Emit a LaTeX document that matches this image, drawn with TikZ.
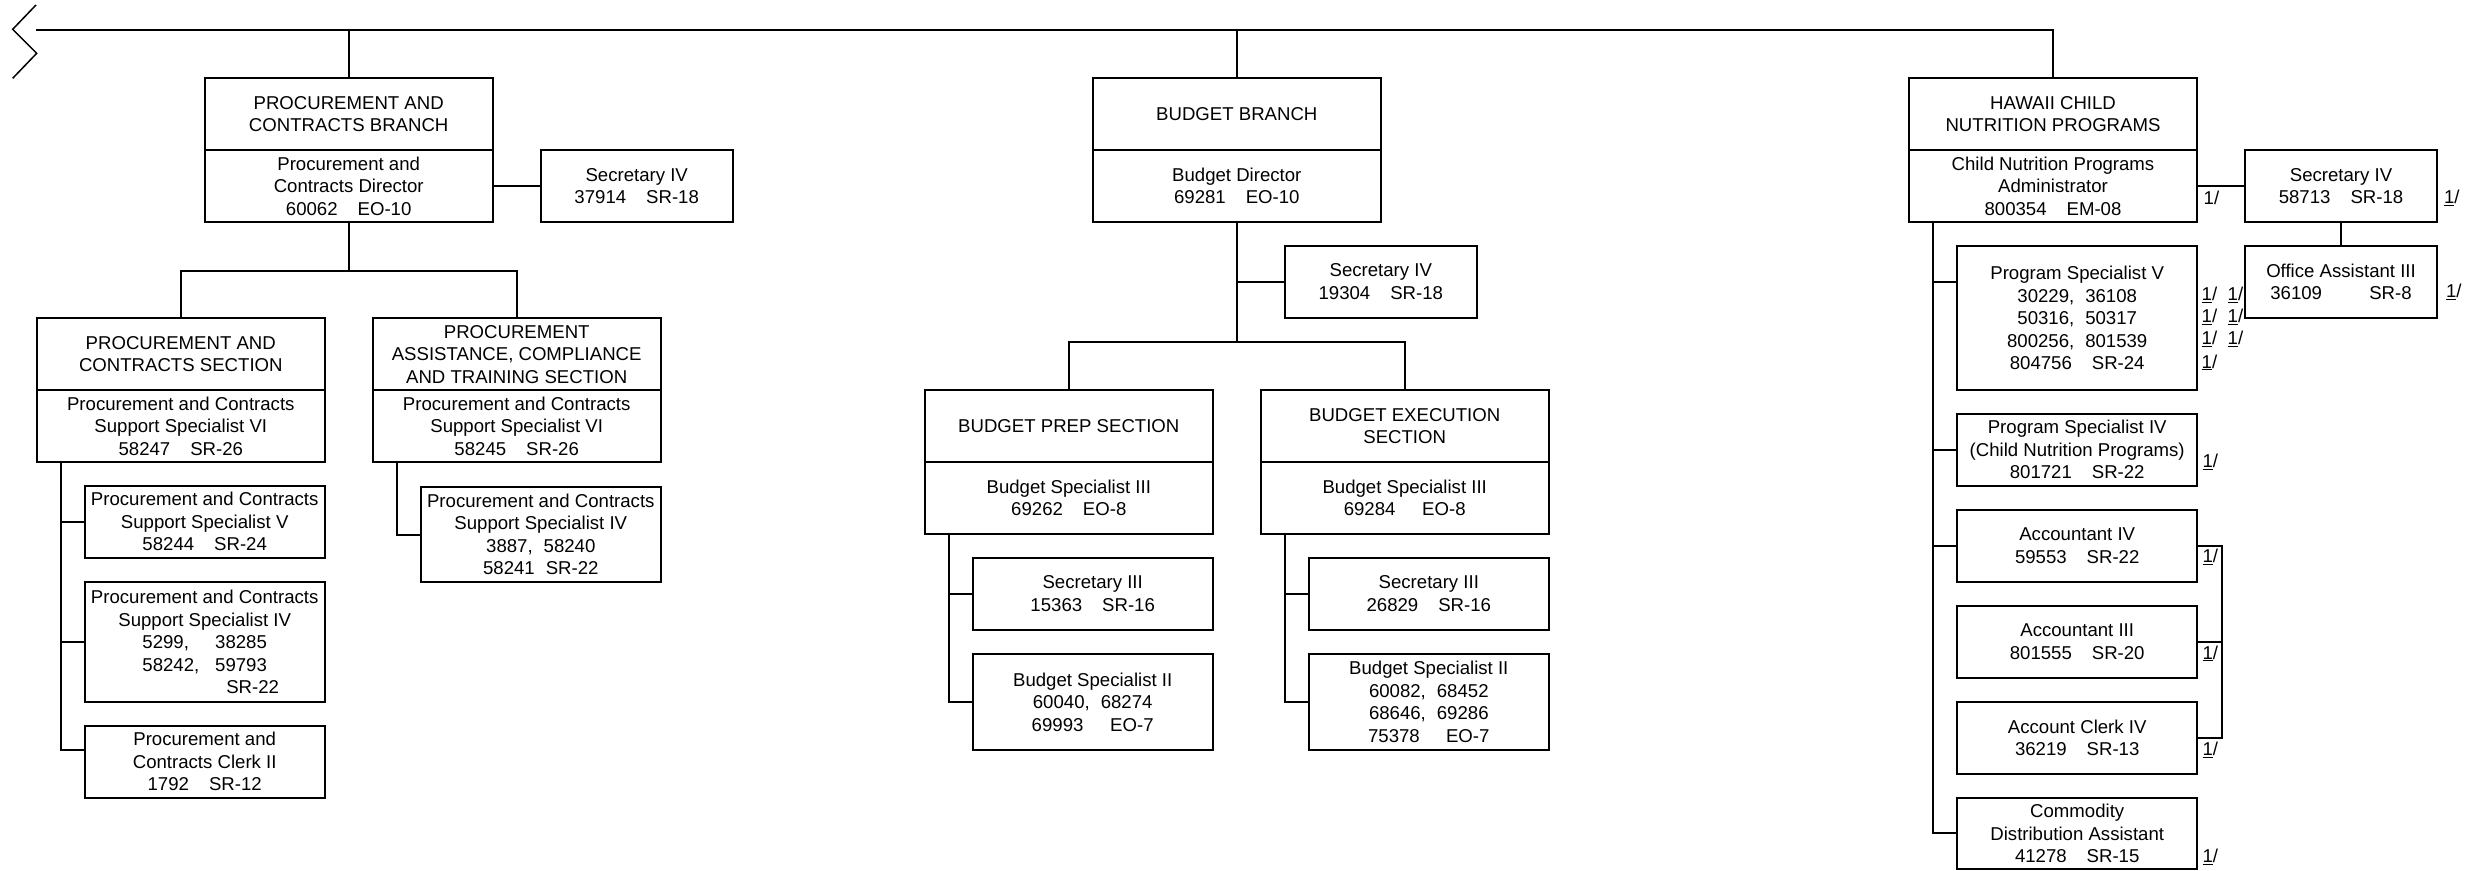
\documentclass[tikz,border=0pt]{standalone}
\usepackage{fontspec}
\setmainfont{Liberation Sans}
\usetikzlibrary{positioning}
\newcommand\posgap{\hspace{20pt}}
\newcommand\commagap{\hspace{11pt}}
\newcommand\noteone{\underline{1}/}
\tikzset{
	orgbox/.style={draw,line width=2pt,align=center,inner sep=0pt,outer sep=0pt,minimum height=72pt},
	bigbox/.style={orgbox,minimum width=288pt},
	smallbox/.style={orgbox,minimum width=240pt},
	secbox/.style={orgbox,minimum width=192pt},
	fnote/.style={anchor=west,inner sep=0pt},
}
\begin{document}
\begin{tikzpicture}[x=1pt,y=-1pt,line width=2pt,font=\fontsize{18.6}{22.5}\selectfont]
	\useasboundingbox (0,0) rectangle (2486,870);
	% break mark
	\draw[line width=1.5pt] (36,5)--(12.7,29.3)--(36.7,53.3)--(12.7,78.3);
	\coordinate (topl) at (36,30);
	% procurement and contracts
	\node[bigbox] (pcbhead) at (348.7,114) {PROCUREMENT AND\\CONTRACTS BRANCH};
	\node[bigbox,below=0pt of pcbhead] (pcbbody) {Procurement and\\Contracts Director\\60062\posgap EO-10};
	\node[secbox] (pcbsec) at (636.7,186) {Secretary IV\\37914\posgap SR-18};
	\node[bigbox] (pcshead) at (180.8,354.2) {PROCUREMENT AND\\CONTRACTS SECTION};
	\node[bigbox,below=0pt of pcshead] (pcsbody) {Procurement and Contracts\\Support Specialist VI\\58247\posgap SR-26};
	\node[bigbox] (pactshead) at (516.7,354.2) {PROCUREMENT\\ASSISTANCE, COMPLIANCE\\AND TRAINING SECTION};
	\node[bigbox,below=0pt of pactshead] (pactsbody) {Procurement and Contracts\\Support Specialist VI\\58245\posgap SR-26};
	\node[smallbox] (pcs1) at (204.7,521.8) {Procurement and Contracts\\Support Specialist V\\58244\posgap SR-24};
	\node[smallbox,minimum height=120pt] (pcs2) at (204.7,642) {Procurement and Contracts\\Support Specialist IV\\ \makebox[72.8pt][l]{5299,}38285\\ \makebox[72.8pt][l]{58242,}59793\\ \hspace*{96pt}SR-22};
	\node[smallbox] (pcs3) at (204.7,761.8) {Procurement and\\Contracts Clerk II\\1792\posgap SR-12};
	\node[smallbox,minimum height=95pt] (pacts1) at (540.8,534.5) {Procurement and Contracts\\Support Specialist IV\\3887,\commagap 58240\\58241\commagap SR-22};
	% budget
	\node[bigbox] (bbhead) at (1236.8,114) {BUDGET BRANCH};
	\node[bigbox,below=0pt of bbhead] (bbbody) {Budget Director\\69281\posgap EO-10};
	\node[secbox] (bbsec) at (1380.8,281.7) {Secretary IV\\19304\posgap SR-18};
	\node[bigbox] (bpshead) at (1068.8,426) {BUDGET PREP SECTION};
	\node[bigbox,below=0pt of bpshead] (bpsbody) {Budget Specialist III\\69262\posgap EO-8};
	\node[bigbox] (beshead) at (1404.7,426) {BUDGET EXECUTION\\SECTION};
	\node[bigbox,below=0pt of beshead] (besbody) {Budget Specialist III\\69284\hspace{26.8pt}EO-8};
	\node[smallbox] (bps1) at (1092.7,593.8) {Secretary III\\15363\posgap SR-16};
	\node[smallbox,minimum height=96pt] (bps2) at (1092.7,702) {Budget Specialist II\\60040,\commagap 68274\\69993\hspace{26.8pt}EO-7};
	\node[smallbox] (bes1) at (1428.8,593.8) {Secretary III\\26829\posgap SR-16};
	\node[smallbox,minimum height=96pt] (bes2) at (1428.8,702) {Budget Specialist II\\60082,\commagap 68452\\68646,\commagap 69286\\75378\hspace{26.3pt}EO-7};
	% child nutrition
	\node[bigbox] (cnphead) at (2053,114) {HAWAII CHILD\\NUTRITION PROGRAMS};
	\node[bigbox,below=0pt of cnphead] (cnpbody) {Child Nutrition Programs\\Administrator\\800354\posgap EM-08};
	\node[secbox] (cnpsec) at (2341,186) {Secretary IV\\58713\posgap SR-18};
	\node[secbox] (cnpoff) at (2341,282) {Office Assistant III\\36109\hspace{47.2pt}SR-8};
	\node[smallbox,minimum height=144pt] (psv) at (2077.2,318) {Program Specialist V\\30229,\commagap 36108\\50316,\commagap 50317\\800256,\commagap 801539\\804756\posgap SR-24};
	\node[smallbox] (psiv) at (2077.2,449.7) {Program Specialist IV\\(Child Nutrition Programs)\\801721\posgap SR-22};
	\node[smallbox] (acc4) at (2077.2,545.9) {Accountant IV\\59553\posgap SR-22};
	\node[smallbox] (acc3) at (2077.2,641.9) {Accountant III\\801555\posgap SR-20};
	\node[smallbox] (clerk) at (2077.2,737.9) {Account Clerk IV\\36219\posgap SR-13};
	\node[smallbox,minimum height=71pt] (comm) at (2077.2,833.4) {Commodity\\Distribution Assistant\\41278\posgap SR-15};
	% lines
	\draw (topl) -| (cnphead.north);
	\draw (pcbhead.north) -- (pcbhead.north |- topl);
	\draw (bbhead.north) -- (bbhead.north |- topl);
	\draw (pcbbody.east) -- (pcbsec.west);
	\draw (pcbbody.south) -- ++(0,48.7) coordinate (pcbfork);
	\draw (pcshead.north) |- (pcbfork) -| (pactshead.north);
	\coordinate (pcstrunk) at (60.7,462);
	\foreach \n in {pcs1,pcs2} \draw (pcstrunk) |- (\n.west);
	\draw (pcstrunk) |- (pcs3.west |- 0,750);
	\coordinate (pactstrunk) at (396.9,462);
	\draw (pactstrunk) |- (pacts1.west);
	\draw (bbbody.south) -- ++(0,120) coordinate (bbfork);
	\draw (bbsec.west) -- (bbsec.west -| bbbody.south);
	\draw (bpshead.north) |- (bbfork) -| (beshead.north);
	\coordinate (bpstrunk) at (949.1,534);
	\coordinate (bestrunk) at (1285.3,534);
	\foreach \n in {bps1,bps2} \draw (bpstrunk) |- (\n.west);
	\foreach \n in {bes1,bes2} \draw (bestrunk) |- (\n.west);
	\draw (cnpbody.east) -- (cnpsec.west);
	\draw (cnpsec) -- (cnpoff);
	\coordinate (cnptrunk) at (1933,222);
	\draw (cnptrunk) |- (psv.west |- 0,281.7);
	\foreach \n in {psiv,acc4,comm} \draw (cnptrunk) |- (\n.west);
	\draw[line width=1.5pt] (acc4.east) -- ++(24.7,0) coordinate (accbr) |- (clerk.east);
	\draw[line width=1.5pt] (acc3.east) -- (acc3.east -| accbr);
	% notes
	\node[fnote] (fnhead) at (2202.7,198) {1/};
	\node[fnote] (fnsec) at (2443,198) {\noteone};
	\node[fnote] (fnoff) at (2445,291.7) {\noteone};
	\foreach \yy [count=\i] in {295,316.7,339,362.3} \node[fnote] (fnpa\i) at (2200.7,\yy) {\noteone};
	\foreach \yy [count=\i] in {295,316.7,339} \node[fnote] (fnpb\i) at (2226.7,\yy) {\noteone};
	\foreach \n/\yy in {psiv/461.7,acc4/556.7,acc3/653.3,clerk/750,comm/856.7} \node[fnote] (fn\n) at (2201.6,\yy) {\noteone};
\end{tikzpicture}
\end{document}
